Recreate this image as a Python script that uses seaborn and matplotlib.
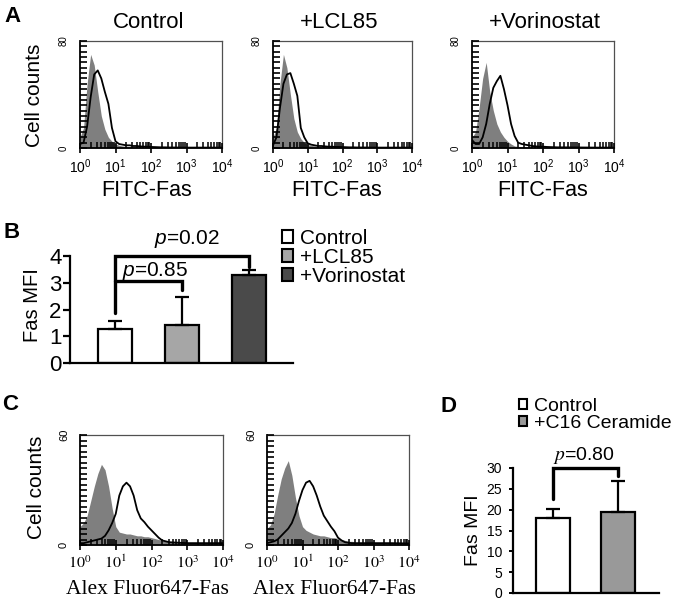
import numpy as np
import pandas as pd
import matplotlib
matplotlib.use('Agg')
import matplotlib.pyplot as plt
import seaborn as sns
from matplotlib.patches import Patch
from matplotlib.ticker import LogLocator, NullFormatter

W, H = 685, 607

# histogram channels (log10 of fluorescence intensity)
log_grid = [0.0, 0.1, 0.2, 0.3, 0.4, 0.5, 0.6, 0.7, 0.8, 0.9,
            1.0, 1.1, 1.2, 1.3, 1.4, 1.5, 1.6, 1.7, 1.8, 1.9,
            2.0, 2.1, 2.2, 2.3, 2.4, 2.5, 3.0, 3.5, 4.0]

# panel A: isotype (grey fill) and FITC-Fas (black line) cell counts
a_titles = ['Control', '+LCL85', '+Vorinostat']
a_iso = [
    [8, 15, 48, 70, 62, 42, 24, 14, 8, 5, 3, 2, 1.5, 1.2, 1, 1, 0.8, 0.7, 0.6, 0.5,
     0.5, 0.4, 0.4, 0.3, 0.3, 0.3, 0.3, 0.3, 0.3],
    [8, 15, 48, 70, 60, 40, 22, 12, 7, 4, 2.5, 2, 1.5, 1.2, 1, 1, 0.8, 0.7, 0.6, 0.5,
     0.5, 0.4, 0.4, 0.3, 0.3, 0.3, 0.3, 0.3, 0.3],
    [8, 12, 30, 52, 64, 42, 28, 18, 12, 8, 5, 3, 1.5, 1.2, 1, 1, 0.8, 0.7, 0.6, 0.5,
     0.5, 0.4, 0.4, 0.3, 0.3, 0.3, 0.3, 0.3, 0.3],
]
a_fas = [
    [3, 4, 16, 38, 55, 58, 52, 42, 33, 15, 5, 3, 2.5, 2, 2, 1.5, 1.5, 1.2, 1, 1,
     0.8, 0.7, 0.6, 0.5, 0.5, 0.4, 0.3, 0.3, 0.3],
    [2, 8, 30, 48, 55, 56, 48, 39, 15, 8, 3.5, 2.5, 2, 1.5, 1.5, 1.2, 1, 1, 0.8, 0.8,
     0.7, 0.6, 0.5, 0.5, 0.4, 0.4, 0.3, 0.3, 0.3],
    [6, 3, 3, 8, 18, 33, 45, 50, 54, 44, 32, 18, 9, 4, 3, 2.5, 2, 1.5, 1.2, 1,
     1, 0.8, 0.7, 0.6, 0.5, 0.5, 0.4, 0.3, 0.3],
]

# panel B: Fas MFI
b_groups = ['Control', '+LCL85', '+Vorinostat']
b_mfi = [1.28, 1.41, 3.28]
b_err = [0.28, 1.06, 0.18]
b_colors = ['white', '#a6a6a6', '#4a4a4a']

# panel C: isotype and Alexa Fluor647-Fas cell counts
c_iso = [
    [10, 12, 16, 24, 32, 39, 44, 41, 32, 20, 10, 7, 6.5, 6, 6, 5.5, 5, 5, 4.5, 4.5,
     4, 3.5, 3, 2.5, 2, 2, 1.5, 1.5, 1.5],
    [9, 11, 17, 27, 36, 42, 46, 38, 26, 16, 10, 8, 7, 6, 5.5, 5, 5, 4.5, 4, 4,
     3.5, 3, 2.5, 2, 2, 1.5, 1.5, 1.5, 1.5],
]
c_fas = [
    [1, 1, 1.5, 2, 2.5, 3, 3.5, 5, 8, 12, 17, 27, 32, 34, 32, 27, 19, 14.5, 12.5, 10,
     8, 6, 4, 2.5, 2, 1.5, 1, 1, 1],
    [1, 1.5, 2, 3, 5, 7, 9, 12, 17, 24, 30, 34, 35, 32, 27, 21, 16, 13, 10, 7.5,
     4, 2.5, 1.5, 1.2, 1, 1, 1, 1, 0.8],
]

# panel D: Fas MFI
d_groups = ['Control', '+C16 Ceramide']
d_mfi = [18.1, 19.5]
d_err = [2.1, 7.3]
d_colors = ['white', '#999999']

sns.set_theme(style='ticks')
plt.rcParams['font.family'] = ['Liberation Sans', 'DejaVu Sans']
plt.rcParams['mathtext.fontset'] = 'custom'
plt.rcParams['mathtext.rm'] = 'Liberation Sans'
plt.rcParams['mathtext.it'] = 'Liberation Sans:italic'
for k in ['text.color', 'axes.labelcolor', 'xtick.color', 'ytick.color', 'axes.edgecolor']:
    plt.rcParams[k] = 'black'

fig = plt.figure(figsize=(W / 100, H / 100), dpi=100)


def rect(l, t, r, b):
    return [l / W, 1 - b / H, (r - l) / W, (b - t) / H]


def ftext(x, y, s, **kw):
    fig.text(x / W, 1 - y / H, s, ha='center', va='center', **kw)


def flow_hist(box, iso, fas, ymax, serif):
    ax = fig.add_axes(rect(*box))
    ax.set_xscale('log')
    x = np.power(10.0, log_grid)
    ax.fill_between(x, iso, 0, color='#7f7f7f', lw=0, zorder=1)
    sns.lineplot(x=x, y=fas, color='black', lw=1.3, ax=ax, zorder=2)
    ax.set_xlim(1, 1e4)
    ax.set_ylim(0, ymax)
    for s in ['top', 'right']:
        ax.spines[s].set_color('#505050')
        ax.spines[s].set_linewidth(0.9)
    for s in ['left', 'bottom']:
        ax.spines[s].set_linewidth(1.3)
    ax.set_xticks([1, 10, 100, 1000, 10000])
    labels = ['$10^{%d}$' % k for k in range(5)]
    if serif:
        ax.set_xticklabels(labels, fontsize=11.5, math_fontfamily='stix')
    else:
        ax.set_xticklabels(labels, fontsize=10)
    ax.xaxis.set_minor_locator(LogLocator(base=10, subs=np.arange(2, 10), numticks=50))
    ax.xaxis.set_minor_formatter(NullFormatter())
    ax.set_yticks([0, ymax])
    ax.set_yticklabels(['0', str(ymax)], rotation=90, fontsize=7 if not serif else 8,
                       va='center')
    ax.set_yticks(np.linspace(0, ymax, 21)[1:-1], minor=True)
    ax.tick_params(axis='x', which='major', direction='inout', length=7, width=1.2, pad=3)
    ax.tick_params(axis='x', which='minor', direction='in', length=4.5, width=1.1)
    ax.tick_params(axis='y', which='major', direction='in', length=5, width=1.2, pad=8)
    ax.tick_params(axis='y', which='minor', direction='in', length=5, width=1.2)
    ax.set_axisbelow(False)
    ax.set_xlabel('')
    ax.set_ylabel('')
    return ax


# ---- panel A
a_boxes = [(80, 41, 222, 148), (273, 41, 412, 148), (472, 41, 614, 148)]
a_text_x = [149, 339, 545]
for i in range(3):
    flow_hist(a_boxes[i], a_iso[i], a_fas[i], 80, False)
    ftext(a_text_x[i], 22, a_titles[i], fontsize=16)
    ftext(a_text_x[i] - 2, 190, 'FITC-Fas', fontsize=15.5)
ftext(35, 95, 'Cell counts', fontsize=15, rotation=90)
ftext(12, 16, 'A', fontsize=16, fontweight='bold')

# ---- panel B
axb = fig.add_axes(rect(70, 256, 293, 363))
dfb = pd.DataFrame({'group': b_groups, 'mfi': b_mfi})
sns.barplot(data=dfb, x='group', y='mfi', hue='group', palette=b_colors,
            edgecolor='black', linewidth=1.6, width=0.52, legend=False, ax=axb)
axb.errorbar(range(3), b_mfi, yerr=[[0] * 3, b_err], fmt='none', ecolor='black',
             elinewidth=1.6, capsize=5, capthick=1.6, zorder=3)
axb.set_xlim(-0.672, 2.656)
axb.set_ylim(0, 4)
axb.set_yticks(range(5))
axb.set_xticks([])
axb.set_xlabel('')
axb.set_ylabel('')
sns.despine(ax=axb)
for s in ['left', 'bottom']:
    axb.spines[s].set_linewidth(1.6)
axb.tick_params(axis='y', labelsize=16, length=5, width=1.6, pad=1)
axb.plot([0, 0, 2, 2], [1.87, 4.0, 4.0, 3.59], color='black', lw=2.4, clip_on=False,
         solid_joinstyle='miter')
axb.plot([0, 1, 1], [3.07, 3.07, 2.74], color='black', lw=2.4, clip_on=False,
         solid_joinstyle='miter')
axb.text(1.07, 4.62, '$p$=0.02', fontsize=15, ha='center', va='center')
axb.text(0.6, 3.44, '$p$=0.85', fontsize=15, ha='center', va='center')
handles_b = [Patch(facecolor=c, edgecolor='black', lw=1.5, label=g)
             for g, c in zip(b_groups, b_colors)]
axb.legend(handles=handles_b, loc='upper left', bbox_to_anchor=(281.5 / W, 1 - 229 / H),
           bbox_transform=fig.transFigure, frameon=False, fontsize=15,
           handlelength=0.55, handleheight=0.55, handletextpad=0.35,
           labelspacing=0.0, borderpad=0, borderaxespad=0)
ftext(33, 305, 'Fas MFI', fontsize=14.5, rotation=90)
ftext(12, 232, 'B', fontsize=16, fontweight='bold')

# ---- panel C
c_boxes = [(80, 435, 223, 545), (267, 435, 409, 545)]
for i in range(2):
    flow_hist(c_boxes[i], c_iso[i], c_fas[i], 60, True)
    ftext(c_boxes[i][0] + 67, 589, 'Alex Fluor647-Fas', fontsize=15.5,
          family='Liberation Serif')
ftext(37, 487, 'Cell counts', fontsize=15, rotation=90)
ftext(10, 404, 'C', fontsize=16, fontweight='bold')

# ---- panel D
axd = fig.add_axes(rect(513, 468, 659, 593))
dfd = pd.DataFrame({'group': d_groups, 'mfi': d_mfi})
sns.barplot(data=dfd, x='group', y='mfi', hue='group', palette=d_colors,
            edgecolor='black', linewidth=1.6, width=0.52, legend=False, ax=axd)
axd.errorbar(range(2), d_mfi, yerr=[[0] * 2, d_err], fmt='none', ecolor='black',
             elinewidth=1.6, capsize=5, capthick=1.6, zorder=3)
axd.set_xlim(-0.615, 1.63)
axd.set_ylim(0, 30)
axd.set_yticks(range(0, 31, 5))
axd.set_xticks([])
axd.set_xlabel('')
axd.set_ylabel('')
sns.despine(ax=axd)
for s in ['left', 'bottom']:
    axd.spines[s].set_linewidth(1.6)
axd.tick_params(axis='y', labelsize=10, length=3, width=1.4, pad=5)
axd.plot([0, 0, 1, 1], [22.5, 30, 30, 28.1], color='black', lw=2.4, clip_on=False,
         solid_joinstyle='miter')
axd.text(0.48, 33.1, '$p$=0.80', fontsize=14, ha='center', va='center',
         math_fontfamily='stix')
handles_d = [Patch(facecolor=c, edgecolor='black', lw=1.5, label=g)
             for g, c in zip(d_groups, d_colors)]
axd.legend(handles=handles_d, loc='upper left', bbox_to_anchor=(518.5 / W, 1 - 398 / H),
           bbox_transform=fig.transFigure, frameon=False, fontsize=14,
           handlelength=0.45, handleheight=0.45, handletextpad=0.35,
           labelspacing=0.0, borderpad=0, borderaxespad=0)
ftext(474, 530, 'Fas MFI', fontsize=14, rotation=90)
ftext(448, 407, 'D', fontsize=16, fontweight='bold')

fig.savefig('out.png', dpi=100)
